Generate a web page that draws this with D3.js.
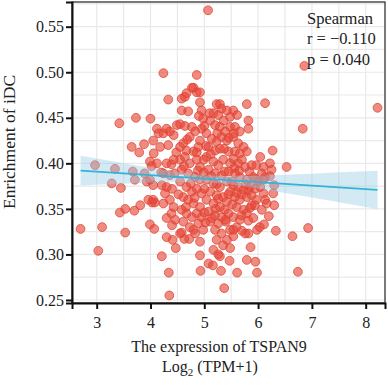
<!DOCTYPE html>
<html><head><meta charset="utf-8">
<script src="https://cdn.jsdelivr.net/npm/d3@7"></script>
<style>body{margin:0;background:#fff}svg{display:block}</style>
</head><body>
<script>
// ---- data ----
const xTicks = [3, 4, 5, 6, 7, 8];
const yTicks = [0.25, 0.30, 0.35, 0.40, 0.45, 0.50, 0.55];
const yTickLabels = ["0.25", "0.30", "0.35", "0.40", "0.45", "0.50", "0.55"];
const xMinor = [3.5, 4.5, 5.5, 6.5, 7.5];
const yMinor = [0.275, 0.325, 0.375, 0.425, 0.475, 0.525, 0.575];

const tspan9 = [
  5.07,6.86,8.22,6.83,4.24,4.86,4.33,6.13,3.42,3.73,4.00,2.97,3.34,3.28,3.45,3.65,3.79,3.67,3.71,3.88,3.89,3.43,3.53,3.70,3.81,2.70,3.10,3.03,3.53,3.99,4.07,4.03,3.93,4.21,4.34,4.35,4.30,4.41,4.47,4.40,4.58,4.63,4.72,4.80,4.92,4.93,5.08,5.16,5.31,5.37,5.26,5.42,5.48,5.54,5.47,5.61,5.79,5.86,5.95,5.98,5.70,5.82,5.82,5.98,6.03,6.11,6.20,6.30,6.33,6.64,6.93,6.74,6.53,6.28,6.30,6.22,6.25,6.22,6.27,6.13,5.79,5.82,5.82,4.80,4.86,4.92,5.23,5.29,5.32,
  4.12,4.15,4.24,4.05,4.18,4.06,3.99,4.12,4.30,4.39,4.43,4.24,4.36,4.21,4.30,4.27,4.36,4.24,4.43,4.39,4.30,4.46,4.08,4.30,4.36,4.43,4.49,4.02,3.99,4.05,3.96,4.05,
  4.58,4.64,4.67,4.58,4.55,4.64,4.77,4.83,4.73,4.61,4.55,4.67,4.80,4.89,4.92,4.95,4.98,4.95,4.92,4.77,4.55,4.64,4.73,4.86,4.92,4.58,4.70,4.83,4.92,4.55,4.67,4.77,4.86,4.95,4.61,4.70,4.80,4.92,4.58,4.67,4.77,4.86,4.95,4.61,4.73,4.89,4.98,4.55,4.83,4.92,
  5.17,5.26,5.42,5.48,5.11,5.20,5.29,5.39,5.48,5.04,5.14,5.23,5.32,5.42,5.08,5.20,5.29,5.45,5.04,5.17,5.26,5.35,5.48,5.08,5.20,5.32,5.45,5.04,5.17,5.29,5.42,5.11,5.23,5.35,5.48,5.04,5.17,5.29,5.42,5.08,5.20,5.32,5.45,5.11,5.26,5.39,5.20,5.32,5.48,5.23,5.35,5.17,5.29,
  5.54,5.61,5.57,5.66,5.54,5.63,5.73,5.57,5.66,5.79,5.54,5.63,5.76,5.88,5.57,5.66,5.79,5.91,5.97,5.54,5.63,5.73,5.85,5.94,5.57,5.66,5.79,5.88,5.97,5.60,5.73,5.85,5.94,5.54,5.66,5.79,5.91,5.60,5.76,5.54,
  6.04,6.10,6.07,6.04,6.10,6.13,6.07,6.16,6.00,6.10,
  4.62,4.75,4.88,5.00,5.13,5.26,5.38,5.51,5.70,5.82,4.66,4.82,5.00,5.14,5.38,5.52,5.69,5.88,4.99,5.12,5.37,5.56,4.68,4.86,5.03,5.24,4.99,5.23,5.45,5.60,5.77,4.52,4.45,4.48,4.33,4.20,4.40,5.02,5.21,5.40,5.65,5.84,5.95,5.10,5.36,5.00,4.70,4.90,5.55,5.70,5.45
];
const idc = [
  0.568,0.507,0.461,0.438,0.499,0.497,0.470,0.466,0.444,0.450,0.449,0.398,0.394,0.378,0.373,0.418,0.412,0.391,0.382,0.421,0.389,0.346,0.350,0.348,0.354,0.328,0.330,0.304,0.324,0.333,0.328,0.357,0.380,0.298,0.280,0.255,0.319,0.316,0.307,0.332,0.324,0.317,0.317,0.327,0.299,0.282,0.290,0.288,0.282,0.263,0.300,0.316,0.307,0.320,0.293,0.280,0.294,0.308,0.292,0.280,0.326,0.323,0.337,0.327,0.330,0.333,0.342,0.354,0.326,0.320,0.329,0.281,0.396,0.367,0.376,0.386,0.393,0.400,0.414,0.385,0.465,0.447,0.438,0.483,0.478,0.478,0.465,0.465,0.460,
  0.438,0.433,0.433,0.425,0.418,0.411,0.402,0.400,0.400,0.399,0.404,0.389,0.387,0.376,0.374,0.367,0.360,0.356,0.352,0.345,0.340,0.338,0.357,0.438,0.435,0.431,0.442,0.397,0.382,0.376,0.360,0.360,
  0.471,0.473,0.477,0.458,0.443,0.441,0.440,0.435,0.429,0.422,0.418,0.414,0.413,0.418,0.425,0.438,0.449,0.458,0.467,0.483,0.404,0.407,0.400,0.404,0.396,0.393,0.389,0.385,0.382,0.380,0.374,0.369,0.372,0.367,0.363,0.360,0.356,0.352,0.349,0.345,0.341,0.345,0.341,0.336,0.330,0.334,0.327,0.323,0.323,0.314,
  0.455,0.453,0.458,0.451,0.447,0.442,0.440,0.435,0.440,0.433,0.427,0.424,0.429,0.425,0.418,0.414,0.416,0.413,0.407,0.402,0.398,0.404,0.400,0.393,0.389,0.387,0.391,0.382,0.378,0.374,0.380,0.369,0.365,0.363,0.369,0.360,0.356,0.352,0.358,0.347,0.343,0.341,0.345,0.336,0.334,0.338,0.327,0.323,0.327,0.316,0.310,0.305,0.298,
  0.458,0.453,0.440,0.435,0.429,0.422,0.418,0.413,0.411,0.413,0.405,0.400,0.396,0.398,0.389,0.385,0.382,0.385,0.398,0.376,0.374,0.371,0.374,0.372,0.363,0.360,0.363,0.365,0.360,0.352,0.349,0.351,0.354,0.341,0.338,0.345,0.340,0.330,0.323,0.327,
  0.407,0.396,0.389,0.374,0.367,0.360,0.349,0.356,0.380,0.382,
  0.397,0.378,0.392,0.372,0.386,0.361,0.391,0.380,0.366,0.371,0.352,0.362,0.346,0.340,0.349,0.355,0.343,0.354,0.404,0.410,0.416,0.395,0.426,0.412,0.419,0.433,0.390,0.377,0.366,0.368,0.377,0.366,0.389,0.412,0.420,0.390,0.372,0.335,0.350,0.336,0.392,0.391,0.383,0.455,0.447,0.441,0.457,0.452,0.433,0.404,0.428
];

// regression fit and confidence band
const fitX     = [2.70, 3.00, 3.50, 4.00, 4.50, 5.00, 5.50, 6.00, 6.50, 7.00, 7.50, 8.00, 8.22];
const fitY     = [0.3920,0.3909,0.3889,0.3870,0.3851,0.3832,0.3813,0.3794,0.3775,0.3756,0.3737,0.3718,0.3709];
const bandHalf = [0.0164,0.0144,0.0112,0.0081,0.0053,0.0036,0.0044,0.0069,0.0100,0.0131,0.0164,0.0196,0.0211];

const statLines = ["Spearman", "r = \u22120.110", "p = 0.040"];

// ---- drawing ----
const W = 388, H = 385;
const L = 72, R = 385, T = 2, B = 303;
const font = "'Liberation Serif', 'Times New Roman', serif";

const svg = d3.select("body").append("svg").attr("width", W).attr("height", H);
const x = d3.scaleLinear().domain([2.541, 8.359]).range([L, R]);
const y = d3.scaleLinear().domain([0.2467, 0.5771]).range([B, T]);

const g = svg.append("g");
g.append("rect").attr("x", L).attr("y", T).attr("width", R - L).attr("height", B - T).attr("fill", "#fff");

// grid
const gridCol = "#e9e9e9";
g.selectAll(".vx").data(xMinor.concat(xTicks)).join("line")
  .attr("x1", d => x(d)).attr("x2", d => x(d)).attr("y1", T).attr("y2", B)
  .attr("stroke", gridCol).attr("stroke-width", 1.2);
g.selectAll(".hy").data(yMinor.concat(yTicks).filter(d => y(d) > T && y(d) < B)).join("line")
  .attr("x1", L).attr("x2", R).attr("y1", d => y(d)).attr("y2", d => y(d))
  .attr("stroke", gridCol).attr("stroke-width", 1.2);

// points
const pts = tspan9.map((v, i) => ({ x: v, y: idc[i] }));
g.append("g").selectAll("circle").data(pts).join("circle")
  .attr("cx", d => x(d.x)).attr("cy", d => y(d.y)).attr("r", 4.4)
  .attr("fill", "rgba(231,68,52,0.62)")
  .attr("stroke", "rgba(222,70,55,0.78)").attr("stroke-width", 1);

// confidence band
const fit = fitX.map((v, i) => ({ x: v, y: fitY[i], h: bandHalf[i] }));
g.append("path").datum(fit)
  .attr("d", d3.area().x(d => x(d.x)).y0(d => y(d.y - d.h)).y1(d => y(d.y + d.h)))
  .attr("fill", "rgba(150,205,230,0.42)");
g.append("path").datum(fit)
  .attr("d", d3.line().x(d => x(d.x)).y(d => y(d.y)))
  .attr("fill", "none").attr("stroke", "#33b3d6").attr("stroke-width", 1.8);

// frame
g.append("rect").attr("x", L).attr("y", T).attr("width", R - L).attr("height", B - T)
  .attr("fill", "none").attr("stroke", "#333").attr("stroke-width", 1.3);

// axes
const xAxis = svg.append("g").attr("transform", `translate(0,${B})`)
  .call(d3.axisBottom(x).tickValues(xTicks).tickSize(6).tickPadding(8).tickFormat(d3.format("d")));
const yAxis = svg.append("g").attr("transform", `translate(${L},0)`)
  .call(d3.axisLeft(y).tickValues(yTicks).tickSize(6).tickPadding(2).tickFormat((d, i) => yTickLabels[i]));
[xAxis, yAxis].forEach(a => {
  a.select(".domain").attr("stroke", "#111").attr("stroke-width", 2);
  a.selectAll(".tick line").attr("stroke", "#111").attr("stroke-width", 2);
  a.selectAll(".tick text").attr("fill", "#222").style("font-family", font).style("font-size", "16px");
});

// titles
svg.append("text").attr("x", 219).attr("y", 352).attr("text-anchor", "middle")
  .style("font-family", font).style("font-size", "16px").attr("fill", "#222")
  .text("The expression of TSPAN9");
const t2 = svg.append("text").attr("x", 210).attr("y", 372).attr("text-anchor", "middle")
  .style("font-family", font).style("font-size", "16px").attr("fill", "#222");
t2.append("tspan").text("Log");
t2.append("tspan").attr("dy", 4).style("font-size", "11px").text("2");
t2.append("tspan").attr("dy", -4).text(" (TPM+1)");

svg.append("text").attr("transform", "translate(15,142) rotate(-90)").attr("text-anchor", "middle")
  .style("font-family", font).style("font-size", "17.5px").attr("fill", "#222")
  .text("Enrichment of iDC");

svg.append("g").selectAll("text").data(statLines).join("text")
  .attr("x", 307).attr("y", (d, i) => 23.5 + i * 20.5)
  .style("font-family", font).style("font-size", "16.5px").attr("fill", "#222")
  .text(d => d);
</script>
</body></html>
